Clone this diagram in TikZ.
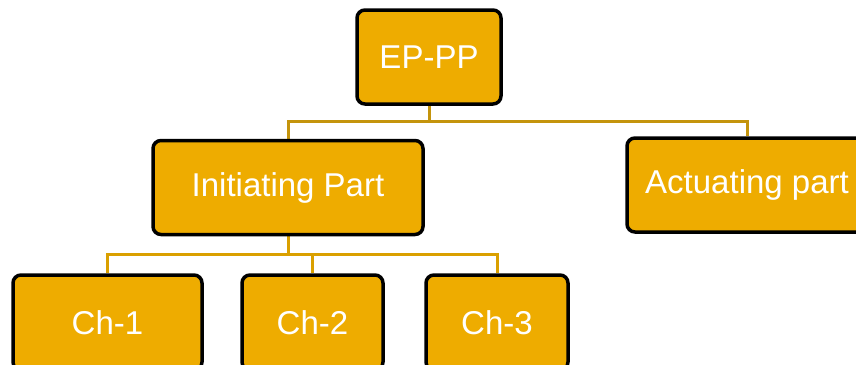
\documentclass[tikz,border=0pt]{standalone}
\usepackage{fontspec}
\setmainfont{Liberation Sans}
\usetikzlibrary{backgrounds}
\definecolor{boxfill}{HTML}{EEAC00}
\definecolor{linkhi}{HTML}{C4940C}
\definecolor{linklo}{HTML}{DAA000}
\tikzset{
  unit/.style={draw=black, line width=3.5pt, fill=boxfill, rounded corners=8pt,
    minimum height=94pt, inner sep=0pt, text=white,
    font=\fontsize{33}{39}\selectfont},
  linkA/.style={draw=linkhi, line width=3pt},
  linkB/.style={draw=linklo, line width=3pt}
}
\begin{document}
\begin{tikzpicture}[x=1pt,y=1pt]
  \useasboundingbox (0,0) rectangle (856,-364);

  % tree nodes
  \node[unit, minimum width=144pt] (ep)   at (429,-57)    {EP-PP};
  \node[unit, minimum width=270pt] (init) at (288,-187.5) {Initiating Part};
  \node[unit, minimum width=240pt] (act)  at (747,-185)   {Actuating part};
  \node[unit, minimum width=189pt, minimum height=95pt] (ch1) at (107.5,-322.5) {Ch-1};
  \node[unit, minimum width=141pt, minimum height=95pt] (ch2) at (312.5,-322.5) {Ch-2};
  \node[unit, minimum width=142pt, minimum height=95pt] (ch3) at (497,-322.5)   {Ch-3};

  % bus junctions
  \coordinate (bus1) at (430,-121);
  \coordinate (bus2) at (288,-254);

  \begin{scope}[on background layer]
    \draw[linkA] (ep.south) -- (ep.south |- bus1);
    \draw[linkA] (init.north) |- (bus1) -| (act.north);
    \draw[linkB] (init.south) -- (bus2);
    \draw[linkB] (ch1.north) |- (bus2) -| (ch3.north);
    \draw[linkB] (ch2.north) -- (ch2.north |- bus2);
  \end{scope}
\end{tikzpicture}
\end{document}
